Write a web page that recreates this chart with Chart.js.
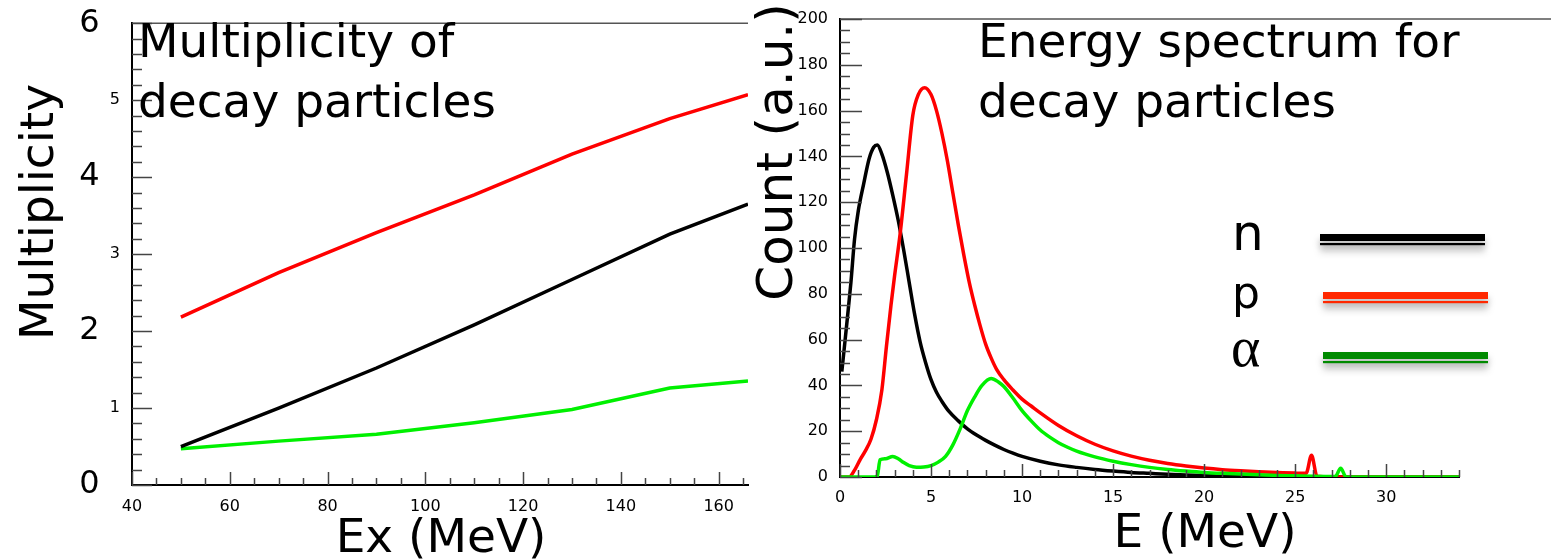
<!DOCTYPE html>
<html>
<head>
<meta charset="utf-8">
<script src="https://cdn.jsdelivr.net/npm/chart.js@4.4.1/dist/chart.umd.min.js"></script>
<style>
  html, body { margin: 0; padding: 0; background: #fff; }
  #page { position: relative; width: 1551px; height: 559px; overflow: hidden; }
  .box { position: absolute; top: 0; height: 559px; }
  #left { left: 0; width: 770px; }
  #right { left: 740px; width: 811px; }
</style>
</head>
<body>
<div id="page">
  <div class="box" id="left"><canvas id="multChart"></canvas></div>
  <div class="box" id="right"><canvas id="specChart"></canvas></div>
</div>
<script>
// Multiplicity vs excitation energy (MeV)
const exEnergy  = [50, 70, 90, 110, 130, 150, 166];
const multN     = [0.50, 1.00, 1.52, 2.08, 2.67, 3.26, 3.65];
const multP     = [2.18, 2.76, 3.28, 3.77, 4.30, 4.76, 5.07];
const multAlpha = [0.47, 0.57, 0.66, 0.81, 0.98, 1.26, 1.35];

// Energy spectrum of decay particles: E (MeV) and count (a.u.)
const nE     = [0.1, 0.4, 0.6, 0.8, 1.0, 1.3, 1.6, 1.85, 2.05, 2.3, 2.6, 2.9, 3.2, 3.5, 3.8, 4.1, 4.4, 4.7, 5.0, 5.3, 5.6, 6.0, 6.5, 7.0, 7.5, 8.0, 8.5, 9.0, 9.5, 10, 11, 12, 13, 14, 15, 16, 17, 18, 19, 20, 22, 24, 26, 28, 34];
const nCount = [46, 69, 85, 104, 116, 128, 139, 144, 145, 141, 133, 123, 112, 99, 85, 71, 59, 50, 42.5, 37, 33, 28.5, 24.5, 21, 18.3, 16, 13.9, 12, 10.4, 9.0, 6.9, 5.3, 4.2, 3.3, 2.6, 2.0, 1.6, 1.2, 0.9, 0.7, 0.4, 0.2, 0.1, 0, 0];

const pE     = [0, 0.5, 0.8, 1.1, 1.4, 1.7, 2.0, 2.3, 2.55, 2.8, 3.0, 3.3, 3.65, 4.0, 4.3, 4.65, 5.0, 5.3, 5.6, 5.9, 6.2, 6.5, 6.8, 7.1, 7.4, 7.7, 8.0, 8.3, 8.6, 9.0, 9.5, 10, 10.5, 11, 12, 13, 14, 15, 16, 17, 18, 19, 20, 21, 22, 23, 24, 25, 25.6, 25.9, 26.2, 27, 34];
const pCount = [0, 0, 3, 7.5, 11.5, 16.5, 25, 38, 57, 75, 88, 106, 132, 158, 167, 170, 167, 160, 150, 138, 124, 110, 97, 85, 75, 66, 58, 52, 47, 42.5, 38, 34, 31, 28, 22.5, 18, 14.3, 11.4, 9.1, 7.3, 5.9, 4.8, 3.9, 3.2, 2.7, 2.3, 2.0, 1.7, 1.6, 9.5, 0.3, 0, 0];

const aE     = [0, 1.9, 2.05, 2.2, 2.5, 2.9, 3.2, 3.5, 3.8, 4.2, 4.6, 5.0, 5.4, 5.8, 6.2, 6.6, 7.0, 7.4, 7.8, 8.3, 8.7, 9.0, 9.5, 10, 10.5, 11, 11.5, 12, 12.5, 13, 14, 15, 16, 17, 18, 19, 20, 21, 22, 23, 24, 25, 26, 27.2, 27.5, 27.8, 34];
const aCount = [0, 0, 0.5, 7.5, 8, 9, 8, 6.3, 5, 4.3, 4.4, 5, 6.5, 9, 14, 21, 29, 35, 40, 43, 41.5, 39.5, 34.5, 29, 24.5, 20.5, 17.5, 15, 13, 11.3, 8.8, 6.9, 5.4, 4.2, 3.3, 2.6, 2.0, 1.6, 1.3, 1.0, 0.7, 0.5, 0.3, 0.2, 3.8, 0, 0];

const FONT = 'DejaVu Sans';

function points(xs, ys) {
    return xs.map((x, i) => ({ x: x, y: ys[i] }));
}

function isMultiple(v, step) {
    const r = v / step;
    return Math.abs(r - Math.round(r)) < 1e-6;
}

// ROOT-like frame: inward ticks, top line, free text and legend
const rootFrame = {
    id: 'rootFrame',
    afterDraw(chart, args, o) {
        const ctx = chart.ctx;
        const area = chart.chartArea;
        const xs = chart.scales.x;
        const ys = chart.scales.y;
        ctx.save();

        // top frame line
        ctx.strokeStyle = '#555';
        ctx.lineWidth = 1.5;
        ctx.beginPath();
        ctx.moveTo(area.left, area.top);
        ctx.lineTo(o.topLineEnd || area.right, area.top);
        ctx.stroke();

        // ticks pointing into the plot
        ctx.strokeStyle = '#444';
        ctx.lineWidth = 1.5;
        ctx.beginPath();
        for (let i = 0; ; i++) {
            const v = xs.min + i * o.xMinor;
            if (v > xs.max + 1e-9) break;
            const px = Math.round(xs.getPixelForValue(v)) + 0.5;
            const len = isMultiple(v, o.xMajor) ? o.xMajorLen : o.xMinorLen;
            ctx.moveTo(px, area.bottom);
            ctx.lineTo(px, area.bottom - len);
        }
        for (let i = 0; ; i++) {
            const v = ys.min + i * o.yMinor;
            if (v > ys.max + 1e-9) break;
            const py = Math.round(ys.getPixelForValue(v)) + 0.5;
            const len = isMultiple(v, o.yMajor) ? o.yMajorLen : o.yMinorLen;
            ctx.moveTo(area.left, py);
            ctx.lineTo(area.left + len, py);
        }
        ctx.stroke();

        // texts
        ctx.fillStyle = '#000';
        (o.texts || []).forEach(t => {
            ctx.save();
            ctx.font = t.font;
            ctx.textAlign = t.align || 'left';
            ctx.textBaseline = 'alphabetic';
            ctx.translate(t.x, t.y);
            if (t.rotate) ctx.rotate(-Math.PI / 2);
            ctx.fillText(t.text, 0, 0);
            ctx.restore();
        });

        // legend bars (double line with soft shadow)
        (o.legend || []).forEach(l => {
            ctx.save();
            ctx.shadowColor = 'rgba(0, 0, 0, 0.35)';
            ctx.shadowBlur = 7;
            ctx.shadowOffsetY = 6;
            ctx.fillStyle = l.color;
            ctx.fillRect(l.x1, l.y, l.x2 - l.x1, 7);
            ctx.fillRect(l.x1, l.y + 9, l.x2 - l.x1, 2.2);
            ctx.restore();
        });

        ctx.restore();
    }
};

const tickFont = { family: FONT, size: 16 };

// Left panel: multiplicity
new Chart(document.getElementById('multChart'), {
    type: 'line',
    data: {
        datasets: [
            { label: 'n', data: points(exEnergy, multN), borderColor: '#000000', order: 1 },
            { label: 'p', data: points(exEnergy, multP), borderColor: '#ff0000', order: 2 },
            { label: 'alpha', data: points(exEnergy, multAlpha), borderColor: '#00f000', order: 3 }
        ]
    },
    options: {
        responsive: true,
        maintainAspectRatio: false,
        animation: false,
        devicePixelRatio: 1,
        layout: { padding: { left: 0, top: 21, right: 22, bottom: 0 } },
        elements: {
            line: { borderWidth: 3.5, tension: 0 },
            point: { radius: 0 }
        },
        plugins: {
            legend: { display: false },
            tooltip: { enabled: false },
            rootFrame: {
                xMinor: 5, xMajor: 20, xMajorLen: 13, xMinorLen: 7,
                yMinor: 0.2, yMajor: 1, yMajorLen: 20, yMinorLen: 10,
                texts: [
                    { text: 'Multiplicity of', x: 138, y: 57, font: '47px ' + FONT },
                    { text: 'decay particles', x: 138, y: 117, font: '47px ' + FONT },
                    { text: 'Ex (MeV)', x: 441, y: 552, align: 'center', font: '47px ' + FONT },
                    { text: 'Multiplicity', x: 53, y: 212, align: 'center', rotate: true, font: '47px ' + FONT }
                ]
            }
        },
        scales: {
            x: {
                type: 'linear',
                min: 40,
                max: 166,
                grid: { display: false },
                border: { display: true, color: '#000', width: 2 },
                ticks: { stepSize: 20, includeBounds: false, color: '#000', font: tickFont, padding: 4, maxRotation: 0 },
                afterFit: function(scale) { scale.height = 74; }
            },
            y: {
                type: 'linear',
                min: 0,
                max: 6,
                grid: { display: false },
                border: { display: true, color: '#000', width: 2 },
                ticks: {
                    stepSize: 1,
                    color: '#000',
                    padding: 4,
                    font: function(context) {
                        const v = context.tick ? context.tick.value : 0;
                        return { family: FONT, size: v % 2 === 0 ? 32 : 16 };
                    },
                    callback: function(value) {
                        return value % 2 === 0 ? value + '  ' : String(value);
                    }
                },
                afterFit: function(scale) { scale.width = 132; }
            }
        }
    },
    plugins: [rootFrame]
});

// Right panel: energy spectrum
new Chart(document.getElementById('specChart'), {
    type: 'line',
    data: {
        datasets: [
            { label: 'n', data: points(nE, nCount), borderColor: '#000000', order: 3 },
            { label: 'p', data: points(pE, pCount), borderColor: '#ff0000', order: 2 },
            { label: 'alpha', data: points(aE, aCount), borderColor: '#00f000', order: 1 }
        ]
    },
    options: {
        responsive: true,
        maintainAspectRatio: false,
        animation: false,
        devicePixelRatio: 1,
        layout: { padding: { left: 0, top: 19, right: 92, bottom: 0 } },
        elements: {
            line: { borderWidth: 3.5, cubicInterpolationMode: 'monotone' },
            point: { radius: 0 }
        },
        plugins: {
            legend: { display: false },
            tooltip: { enabled: false },
            rootFrame: {
                topLineEnd: 811,
                xMinor: 1, xMajor: 5, xMajorLen: 13, xMinorLen: 7,
                yMinor: 5, yMajor: 20, yMajorLen: 22, yMinorLen: 10,
                texts: [
                    { text: 'Energy spectrum for', x: 238, y: 57, font: '47px ' + FONT },
                    { text: 'decay particles', x: 238, y: 117, font: '47px ' + FONT },
                    { text: 'E (MeV)', x: 465, y: 547, align: 'center', font: '47px ' + FONT },
                    { text: 'Count (a.u.)', x: 52, y: 152, align: 'center', rotate: true, font: '50px ' + FONT },
                    { text: 'n', x: 492, y: 250, font: '50px ' + FONT },
                    { text: 'p', x: 492, y: 308, font: '44px ' + FONT },
                    { text: 'α', x: 491, y: 366, font: '56px "Liberation Serif"' }
                ],
                legend: [
                    { color: '#000000', x1: 580, x2: 745, y: 234 },
                    { color: '#ff2800', x1: 583, x2: 748, y: 292 },
                    { color: '#008a00', x1: 583, x2: 748, y: 352 }
                ]
            }
        },
        scales: {
            x: {
                type: 'linear',
                min: 0,
                max: 34,
                grid: { display: false },
                border: { display: true, color: '#000', width: 2 },
                ticks: { stepSize: 5, includeBounds: false, color: '#000', font: tickFont, padding: 3, maxRotation: 0 },
                afterFit: function(scale) { scale.height = 82; }
            },
            y: {
                type: 'linear',
                min: 0,
                max: 200,
                grid: { display: false },
                border: { display: true, color: '#000', width: 2 },
                ticks: { stepSize: 20, color: '#000', font: tickFont, padding: 4 },
                afterFit: function(scale) { scale.width = 100; }
            }
        }
    },
    plugins: [rootFrame]
});
</script>
</body>
</html>
